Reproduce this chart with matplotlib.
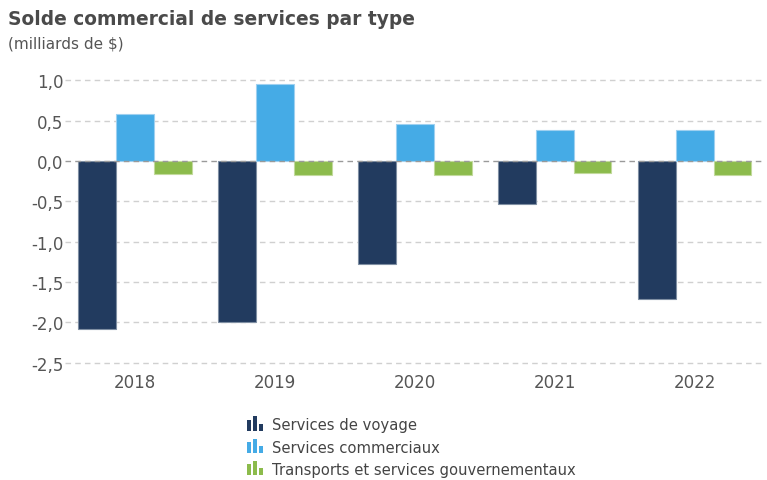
import matplotlib
matplotlib.use("Agg")
import matplotlib.pyplot as plt
import numpy as np
from matplotlib.legend_handler import HandlerBase
from matplotlib.patches import Rectangle

years = ["2018", "2019", "2020", "2021", "2022"]
series_names = ["Services de voyage", "Services commerciaux",
                "Transports et services gouvernementaux"]
voyage = [-2.08, -2.00, -1.28, -0.53, -1.71]
commerciaux = [0.58, 0.95, 0.46, 0.39, 0.38]
transports = [-0.16, -0.17, -0.18, -0.15, -0.18]
yticks = [-2.5, -2.0, -1.5, -1.0, -0.5, 0.0, 0.5, 1.0]

colors = ["#223b5f", "#45abe6", "#8cbb4c"]
edges = ["#7f8fa3", "#9fd0f0", "#c2da9c"]

plt.rcParams['font.family'] = ['DejaVu Sans']

fig = plt.figure(figsize=(7.67, 4.81), dpi=100)
ax = fig.add_axes([0.0847, 0.2274, 0.9123, 0.6286])

x = np.arange(len(years))
w = 0.27
for i, (vals, c, e) in enumerate(zip([voyage, commerciaux, transports], colors, edges)):
    ax.bar(x + (i - 1) * w, vals, width=w, color=c, edgecolor=e, linewidth=0.8,
           label=series_names[i], zorder=3)

ax.set_xlim(-0.5, len(years) - 0.5)
ax.set_ylim(-2.6, 1.15)
ax.set_yticks(yticks)
ax.set_yticklabels([f"{v:.1f}".replace(".", ",") for v in yticks])
ax.set_xticks(x)
ax.set_xticklabels(years)
for s in ax.spines.values():
    s.set_visible(False)
ax.tick_params(axis='both', length=0, labelsize=12, colors="#555555")
ax.tick_params(axis='y', pad=1)
ax.tick_params(axis='x', pad=2)
for t in yticks:
    if t == 0:
        ax.axhline(t, color="#9a9a9a", linestyle=(0, (4, 3)), linewidth=1.0, zorder=4)
    else:
        ax.axhline(t, color="#d0d0d0", linestyle=(0, (4, 3)), linewidth=1.0, zorder=1)

fig.text(0.0104, 0.948, "Solde commercial de services par type", fontsize=13.4,
         fontweight="bold", color="#4a4a4a", va="baseline")
fig.text(0.0104, 0.9, "(milliards de $)", fontsize=11, color="#555555", va="baseline")


class BarIconHandler(HandlerBase):
    def create_artists(self, legend, orig_handle, xdescent, ydescent, width, height,
                       fontsize, trans):
        c = orig_handle.get_facecolor()
        bw = width / 4.2
        heights = [0.75, 1.0, 0.45]
        arts = []
        for k, hh in enumerate(heights):
            r = Rectangle((-xdescent + k * bw * 1.45, -ydescent), bw, height * hh * 1.15,
                          facecolor=c, edgecolor='none', transform=trans)
            arts.append(r)
        return arts


handles = [Rectangle((0, 0), 1, 1, facecolor=c) for c in colors]
leg = fig.legend(handles, series_names, loc="upper left",
                 bbox_to_anchor=(0.322, 0.13), frameon=False, fontsize=10.6,
                 handler_map={Rectangle: BarIconHandler()}, handlelength=1.2,
                 handleheight=0.9, handletextpad=0.5, labelspacing=0.48,
                 borderaxespad=0, borderpad=0)
for t in leg.get_texts():
    t.set_color("#444444")

fig.savefig("out.png", dpi=100)
